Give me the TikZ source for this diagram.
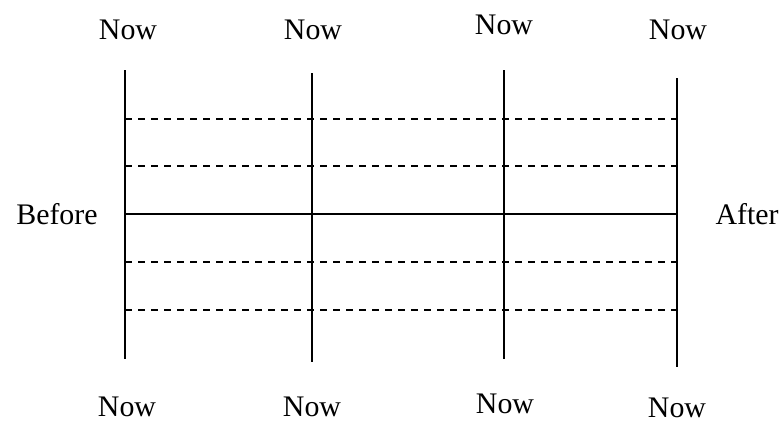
\documentclass[tikz,border=0pt]{standalone}
\usepackage{fontspec}
\setmainfont{Liberation Serif}
\usepackage{tikz}
\usetikzlibrary{calc}
\tikzset{lbl/.style={font=\fontsize{17}{20}\selectfont,inner sep=0pt},
  tline/.style={line width=1.1pt},
  sline/.style={line width=0.9pt,dash pattern=on 4pt off 3.4pt}}

\begin{document}
\begin{tikzpicture}[x=0.02cm,y=-0.02cm]
\useasboundingbox (0,0) rectangle (781,423);
% time lines
\coordinate (t1) at (125,70); \coordinate (b1) at (125,359);
\coordinate (t2) at (312,73); \coordinate (b2) at (312,362);
\coordinate (t3) at (504,70); \coordinate (b3) at (504,359);
\coordinate (t4) at (677,78); \coordinate (b4) at (677,367);
\draw[tline] (t1)--(b1); \draw[tline] (t2)--(b2); \draw[tline] (t3)--(b3); \draw[tline] (t4)--(b4);
% cross lines
\coordinate (l1) at (125,119); \coordinate (r1) at (677,119);
\coordinate (l2) at (125,166); \coordinate (r2) at (677,166);
\coordinate (l3) at (125,214); \coordinate (r3) at (677,214);
\coordinate (l4) at (125,262); \coordinate (r4) at (677,262);
\coordinate (l5) at (125,310); \coordinate (r5) at (677,310);
\draw[sline] (l1)--(r1); \draw[sline] (l2)--(r2);
\draw[tline,line width=0.9pt] (l3)--(r3);
\draw[sline] (l4)--(r4); \draw[sline] (l5)--(r5);
% labels
\node[lbl] (nt1) at (128,30) {Now}; \node[lbl] (nt2) at (313,30) {Now};
\node[lbl] (nt3) at (504,25) {Now}; \node[lbl] (nt4) at (678,30) {Now};
\node[lbl] (nb1) at (127,407) {Now}; \node[lbl] (nb2) at (312,407) {Now};
\node[lbl] (nb3) at (505,404) {Now}; \node[lbl] (nb4) at (677,408) {Now};
\node[lbl] (bef) at (57,214) {Before}; \node[lbl] (aft) at (747,214) {After};
\end{tikzpicture}
\end{document}
